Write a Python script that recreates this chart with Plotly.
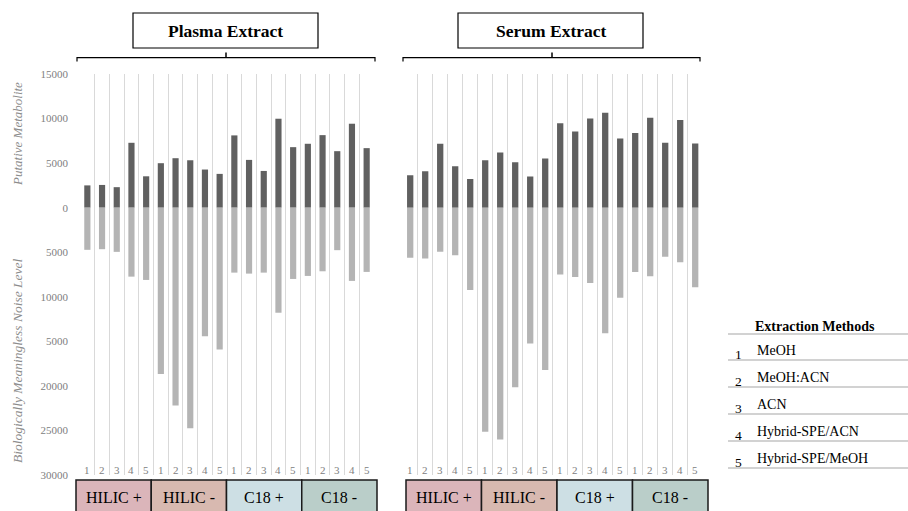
import plotly.graph_objects as go

# ---------------- data ----------------
groups = ["HILIC +", "HILIC -", "C18 +", "C18 -"]
group_colors = ["#dbb5ba", "#d8b9b0", "#cddfe4", "#bacec9"]
methods = ["MeOH", "MeOH:ACN", "ACN", "Hybrid-SPE/ACN", "Hybrid-SPE/MeOH"]
method_ids = ["1", "2", "3", "4", "5"]
panels = ["Plasma Extract", "Serum Extract"]

plasma_metab = [2500, 2550, 2300, 7280, 3520, 4990, 5550, 5320, 4280, 3790,
                8110, 5360, 4120, 9980, 6790, 7170, 8140, 6340, 9420, 6680]
plasma_noise = [4730, 4660, 4960, 7740, 8110, 18660, 22190, 24740, 14420, 15920,
                7290, 7400, 7290, 11790, 8000, 7660, 7140, 4770, 8220, 7210]
serum_metab = [3640, 4090, 7160, 4650, 3220, 5330, 6190, 5100, 3490, 5510,
               9460, 8560, 10020, 10650, 7770, 8370, 10090, 7280, 9830, 7200]
serum_noise = [5630, 5710, 4960, 5340, 9230, 25150, 26010, 20160, 15250, 18210,
               7510, 7770, 8450, 14080, 10100, 7210, 7700, 5520, 6120, 8940]

y_tickvals = [15000, 10000, 5000, 0, -5000, -10000, -15000, -20000, -25000, -30000]
y_ticktext = ["15000", "10000", "5000", "0", "5000", "10000", "5000", "20000", "25000", "30000"]

FONT = "Liberation Serif, Times New Roman, DejaVu Serif, serif"
W, H = 908, 511


def px(x):
    return x / W


def py(y):
    return 1 - y / H


fig = go.Figure()

series = [(plasma_metab, plasma_noise, "x", "y"), (serum_metab, serum_noise, "x2", "y2")]
for metab, noise, xa, ya in series:
    xs = list(range(1, len(metab) + 1))
    fig.add_trace(go.Bar(x=xs, y=metab, xaxis=xa, yaxis=ya, width=0.42,
                         marker=dict(color="#606060", line=dict(width=0)),
                         showlegend=False, hoverinfo="y"))
    fig.add_trace(go.Bar(x=xs, y=[-v for v in noise], xaxis=xa, yaxis=ya, width=0.42,
                         marker=dict(color="#b4b4b4", line=dict(width=0)),
                         showlegend=False, hoverinfo="y"))

n = len(plasma_metab)
grid_vals = [i + 0.5 for i in range(n + 1)]
xaxis_common = dict(range=[0.5, n + 0.5], tickvals=grid_vals, showticklabels=False,
                    showgrid=True, gridcolor="#d9d9d9", gridwidth=1, zeroline=False,
                    ticks="", showline=False, fixedrange=True)
yaxis_common = dict(range=[-30000, 15000], tickvals=y_tickvals, ticktext=y_ticktext,
                    showgrid=False, zeroline=False, showline=False, ticks="",
                    fixedrange=True)

ydom = [py(475), py(74)]
fig.update_layout(
    width=W, height=H, autosize=False,
    margin=dict(l=0, r=0, t=0, b=0, pad=0, autoexpand=False),
    paper_bgcolor="white", plot_bgcolor="white",
    barmode="relative",
    font=dict(family=FONT, color="#000000"),
    xaxis=dict(domain=[px(80), px(374)], anchor="y", **xaxis_common),
    xaxis2=dict(domain=[px(402.7), px(702.7)], anchor="y2", **xaxis_common),
    yaxis=dict(domain=ydom, anchor="x", showticklabels=True,
               tickfont=dict(family=FONT, size=11, color="#808080"),
               ticklabelstandoff=11, **yaxis_common),
    yaxis2=dict(domain=ydom, anchor="x2", showticklabels=False, **yaxis_common),
)

shapes = []
annotations = []

# y-axis titles
annotations.append(dict(text="<i>Putative Metabolite</i>", x=px(17), y=py(134), xref="paper", yref="paper",
                        xanchor="center", yanchor="middle",
                        showarrow=False, textangle=-90, font=dict(family=FONT, size=13, color="#8c8c8c")))
annotations.append(dict(text="<i>Biologically Meaningless Noise Level</i>", x=px(17), y=py(361),
                        xref="paper", yref="paper", showarrow=False, textangle=-90,
                        xanchor="center", yanchor="middle",
                        font=dict(family=FONT, size=13.5, color="#8c8c8c")))

# panel titles with boxes and brackets
panel_geo = [(133, 318, 77, 375, 226), (458, 643, 403, 700, 552)]
for name, (bx0, bx1, l0, l1, c) in zip(panels, panel_geo):
    shapes.append(dict(type="rect", xref="paper", yref="paper", x0=px(bx0), x1=px(bx1),
                       y0=py(48), y1=py(13), line=dict(color="#000000", width=1.2),
                       fillcolor="white"))
    annotations.append(dict(text="<b>" + name + "</b>", x=px((bx0 + bx1) / 2), y=py(31),
                            xref="paper", yref="paper", showarrow=False,
                            xanchor="center", yanchor="middle",
                            font=dict(family=FONT, size=17.5, color="#000000")))
    path = "M {a},{b} L {a},{c} L {d},{c} L {d},{b}".format(
        a=px(l0), b=py(61.5), c=py(57.7), d=px(l1))
    shapes.append(dict(type="path", xref="paper", yref="paper", path=path,
                       line=dict(color="#000000", width=1.2)))
    shapes.append(dict(type="line", xref="paper", yref="paper", x0=px(c), x1=px(c),
                       y0=py(57.7), y1=py(52.5), line=dict(color="#000000", width=1.5)))

# category numbers and group boxes
box_extent = {"x": (76, 377), "x2": (406, 708)}
for xa in ["x", "x2"]:
    for i in range(n):
        annotations.append(dict(text=method_ids[i % len(method_ids)], x=i + 1, xref=xa,
                                y=py(470), yref="paper", showarrow=False,
                                xanchor="center", yanchor="middle",
                                font=dict(family=FONT, size=11, color="#808080")))
    e0, e1 = box_extent[xa]
    bw = (e1 - e0) / len(groups)
    for g, (gname, gcol) in enumerate(zip(groups, group_colors)):
        x0 = e0 + g * bw
        x1 = x0 + bw
        shapes.append(dict(type="rect", xref="paper", yref="paper", x0=px(x0), x1=px(x1),
                           y0=py(515), y1=py(480), fillcolor=gcol,
                           line=dict(color="#1a1a1a", width=1.5), layer="above"))
        annotations.append(dict(text=gname, x=px((x0 + x1) / 2), xref="paper", y=py(497), yref="paper",
                                xanchor="center", yanchor="middle",
                                showarrow=False, font=dict(family=FONT, size=16, color="#000000")))

# legend table
annotations.append(dict(text="<b>Extraction Methods</b>", x=px(815), y=py(326), xref="paper",
                        yref="paper", showarrow=False, xanchor="center", yanchor="middle",
                        font=dict(family=FONT, size=14, color="#000000")))
line_ys = [334, 360, 387, 414, 441, 468]
for yy in line_ys:
    shapes.append(dict(type="line", xref="paper", yref="paper", x0=px(728), x1=px(908),
                       y0=py(yy), y1=py(yy), line=dict(color="#a6a6a6", width=1.2)))
for j, (mid, mname) in enumerate(zip(method_ids, methods)):
    base = line_ys[j + 1]
    annotations.append(dict(text=mid, x=px(738), y=py(base - 5.5), xref="paper", yref="paper",
                            xanchor="center", yanchor="middle",
                            showarrow=False, font=dict(family=FONT, size=13.5, color="#000000")))
    annotations.append(dict(text=mname, x=px(755), y=py(base - 10), xref="paper", yref="paper",
                            xanchor="left", yanchor="middle", showarrow=False,
                            font=dict(family=FONT, size=14, color="#000000")))

fig.update_layout(shapes=shapes, annotations=annotations)
fig.write_html("out.html", config={"displayModeBar": False},
               post_script="document.body.style.margin='0px';document.body.style.overflow='hidden';")
